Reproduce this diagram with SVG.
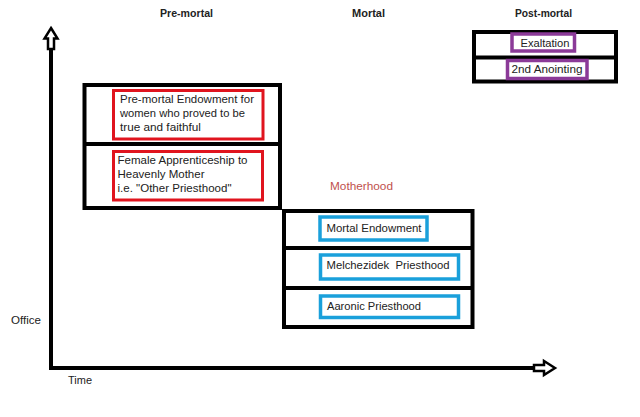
<svg xmlns="http://www.w3.org/2000/svg" width="640" height="417" viewBox="0 0 640 417">
<style>
text{font-family:"Liberation Sans",Arial,sans-serif;font-size:11px;fill:#222;}
.title{font-weight:bold;font-size:10.5px;}
.frame{fill:none;stroke:#000;stroke-width:4;}
.div{stroke:#000;stroke-width:4;}
.red{fill:#fff;stroke:#e0141e;stroke-width:3;}
.blue{fill:#fff;stroke:#1aa0db;stroke-width:3.5;}
.purple{fill:#fff;stroke:#8b3a98;stroke-width:3.5;}
.axis{stroke:#000;stroke-width:4;fill:none;}
.head{fill:#fff;stroke:#000;stroke-width:2.5;stroke-linejoin:miter;}
.mother{fill:#c0504d;}
</style>
<rect width="640" height="417" fill="#fff"/>

<g id="labels">
<text class="title" x="160" y="17" textLength="53" lengthAdjust="spacingAndGlyphs">Pre-mortal</text>
<text class="title" x="352" y="17" textLength="33" lengthAdjust="spacingAndGlyphs">Mortal</text>
<text class="title" x="515" y="17" textLength="57" lengthAdjust="spacingAndGlyphs">Post-mortal</text>
<text x="11" y="324" textLength="30" lengthAdjust="spacingAndGlyphs">Office</text>
<text x="68" y="384" textLength="24" lengthAdjust="spacingAndGlyphs">Time</text>
<text class="mother" x="330" y="190" textLength="63" lengthAdjust="spacingAndGlyphs">Motherhood</text>
</g>

<g id="connectors">
<polyline class="axis" points="51,48 51,368 536,368"/>
<polygon class="head" points="51,28 57.5,38.5 54,38.5 54,49 48,49 48,38.5 44.5,38.5"/>
<polygon class="head" points="555,368 544,361 544,365 534,365 534,371 544,371 544,375"/>
</g>

<g id="premortal">
<rect class="frame" x="84.5" y="85" width="195.5" height="123"/>
<line class="div" x1="84.5" y1="144" x2="280" y2="144"/>
</g>

<g id="premortal-endowment">
<rect class="red" x="113.5" y="90.5" width="149.5" height="48.5"/>
<text x="120" y="103" textLength="134" lengthAdjust="spacingAndGlyphs">Pre-mortal Endowment for</text>
<text x="120" y="117" textLength="125" lengthAdjust="spacingAndGlyphs">women who proved to be</text>
<text x="120" y="131" textLength="81" lengthAdjust="spacingAndGlyphs">true and faithful</text>
</g>

<g id="female-apprenticeship">
<rect class="red" x="113.5" y="151.5" width="149" height="48.5"/>
<text x="117.5" y="163.5" textLength="130" lengthAdjust="spacingAndGlyphs">Female Apprenticeship to</text>
<text x="117.5" y="178" textLength="87" lengthAdjust="spacingAndGlyphs">Heavenly Mother</text>
<text x="117.5" y="192" textLength="114" lengthAdjust="spacingAndGlyphs">i.e. "Other Priesthood"</text>
</g>

<g id="mortal">
<rect class="frame" x="284" y="211" width="188.5" height="116"/>
<line class="div" x1="284" y1="248" x2="472.5" y2="248"/>
<line class="div" x1="284" y1="288" x2="472.5" y2="288"/>
</g>

<g id="mortal-endowment">
<rect class="blue" x="320" y="217" width="107" height="23"/>
<text x="326.5" y="232" textLength="95" lengthAdjust="spacingAndGlyphs">Mortal Endowment</text>
</g>

<g id="melchizedek">
<rect class="blue" x="320.5" y="255" width="138" height="24"/>
<text x="326.5" y="269" textLength="123" lengthAdjust="spacingAndGlyphs" xml:space="preserve">Melchezidek  Priesthood</text>
</g>

<g id="aaronic">
<rect class="blue" x="320.5" y="296" width="138" height="21.5"/>
<text x="327" y="310" textLength="94" lengthAdjust="spacingAndGlyphs">Aaronic Priesthood</text>
</g>

<g id="postmortal">
<rect class="frame" x="474" y="32" width="142" height="49.5"/>
<line class="div" x1="474" y1="57.5" x2="616" y2="57.5"/>
</g>

<g id="exaltation">
<rect class="purple" x="512" y="34" width="62.5" height="17"/>
<text x="520.5" y="47" textLength="49" lengthAdjust="spacingAndGlyphs">Exaltation</text>
</g>

<g id="second-anointing">
<rect class="purple" x="507.5" y="60.5" width="79.5" height="18"/>
<text x="511.5" y="73" textLength="71" lengthAdjust="spacingAndGlyphs">2nd Anointing</text>
</g>
</svg>
